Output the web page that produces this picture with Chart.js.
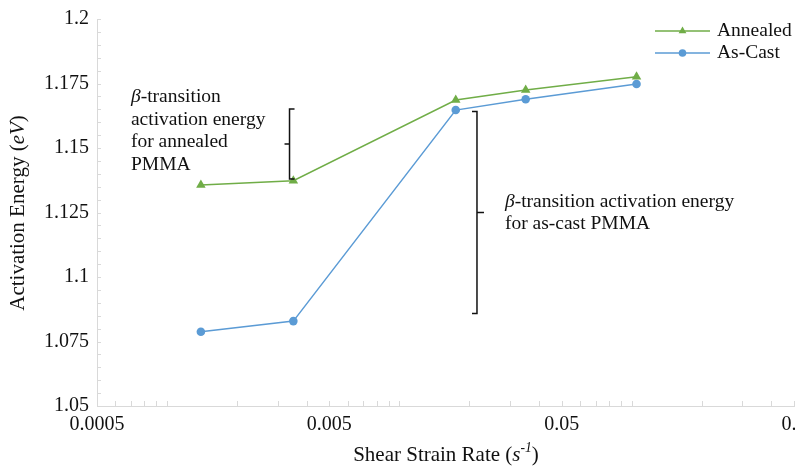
<!DOCTYPE html>
<html>
<head>
<meta charset="utf-8">
<script src="https://cdn.jsdelivr.net/npm/chart.js@4/dist/chart.umd.min.js"></script>
<style>
  html, body { margin: 0; padding: 0; background: #fff; overflow: hidden; }
  #wrap { position: relative; width: 830px; height: 467px; }
</style>
</head>
<body>
<div id="wrap"><canvas id="chart"></canvas></div>
<script>
// shear strain rate (1/s) and activation energy (eV)
const strainRates = [0.0014, 0.0035, 0.0175, 0.035, 0.105];
const annealed    = [1.1357, 1.1373, 1.1686, 1.1725, 1.1776];
const asCast      = [1.0788, 1.0829, 1.1647, 1.1689, 1.1748];
const seriesNames = ['Annealed', 'As-Cast'];

const xTickValues = [0.0005, 0.005, 0.05, 0.5];
const yTickValues = [1.05, 1.075, 1.1, 1.125, 1.15, 1.175, 1.2];

// bracket spans (x, from, to) in data units
const bracketAnnealed = [0.00337, 1.1651, 1.1380];
const bracketAsCast   = [0.0216, 1.1641, 1.0859];

const GREEN = '#70AD47';
const BLUE = '#5B9BD5';
const AXIS = '#d9d9d9';
const INK = '#111';
const SERIF = '"Liberation Serif", "Times New Roman", serif';

function font(size, italic) {
  return (italic ? 'italic ' : '') + size + 'px ' + SERIF;
}

// draws a list of [text, italic, sup] runs starting at x (or centred on x)
function drawRuns(ctx, runs, x, y, size, align) {
  let total = 0;
  runs.forEach(r => {
    ctx.font = font(r[2] ? size * 0.65 : size, r[1]);
    total += ctx.measureText(r[0]).width;
  });
  let cx = align === 'center' ? x - total / 2 : x;
  ctx.textAlign = 'left';
  ctx.textBaseline = 'middle';
  runs.forEach(r => {
    ctx.font = font(r[2] ? size * 0.65 : size, r[1]);
    ctx.fillText(r[0], cx, r[2] ? y - size * 0.3 : y);
    cx += ctx.measureText(r[0]).width;
  });
}

const decorations = {
  id: 'decorations',
  afterDraw(chart) {
    const { ctx, chartArea, scales: { x, y } } = chart;
    ctx.save();

    // inward tick marks on both axes
    ctx.strokeStyle = AXIS;
    ctx.lineWidth = 1;
    ctx.beginPath();
    for (let v = 1.055; v <= 1.2001; v += 0.005) {
      const py = Math.round(y.getPixelForValue(v)) + 0.5;
      ctx.moveTo(chartArea.left, py);
      ctx.lineTo(chartArea.left + 4, py);
    }
    for (let e = -4; e <= 0; e++) {
      for (let k = 1; k <= 9; k++) {
        const v = k * Math.pow(10, e);
        if (v <= 0.00050001 || v > 0.5001) continue;
        const px = Math.round(x.getPixelForValue(v)) + 0.5;
        ctx.moveTo(px, chartArea.bottom);
        ctx.lineTo(px, chartArea.bottom - 5);
      }
    }
    ctx.stroke();

    // axis titles
    ctx.fillStyle = INK;
    drawRuns(ctx, [['Shear Strain Rate (', false], ['s', true], ['-1', true, true], [')', false]],
      446, 455, 21, 'center');
    ctx.save();
    ctx.translate(18, 213);
    ctx.rotate(-Math.PI / 2);
    drawRuns(ctx, [['Activation Energy (', false], ['eV', true], [')', false]], 0, 0, 21, 'center');
    ctx.restore();

    // braces
    ctx.strokeStyle = INK;
    ctx.lineWidth = 1.5;
    function brace(b, capDir, nubLen) {
      const bx = x.getPixelForValue(b[0]);
      const y0 = y.getPixelForValue(b[1]);
      const y1 = y.getPixelForValue(b[2]);
      const ym = (y0 + y1) / 2;
      ctx.beginPath();
      ctx.moveTo(bx + capDir * 5, y0);
      ctx.lineTo(bx, y0);
      ctx.lineTo(bx, y1);
      ctx.lineTo(bx + capDir * 5, y1);
      ctx.moveTo(bx, ym);
      ctx.lineTo(bx - capDir * nubLen, ym);
      ctx.stroke();
    }
    brace(bracketAnnealed, 1, 5);
    brace(bracketAsCast, -1, 7);

    // annotation text
    ctx.fillStyle = INK;
    const ax = x.getPixelForValue(0.0007), ay = y.getPixelForValue(1.1697);
    drawRuns(ctx, [['β', true], ['-transition', false]], ax, ay, 19.5);
    drawRuns(ctx, [['activation energy', false]], ax, ay + 22.5, 19.5);
    drawRuns(ctx, [['for annealed', false]], ax, ay + 45, 19.5);
    drawRuns(ctx, [['PMMA', false]], ax, ay + 67.5, 19.5);

    const bx = x.getPixelForValue(0.0285), by = y.getPixelForValue(1.1290);
    drawRuns(ctx, [['β', true], ['-transition activation energy', false]], bx, by, 19.5);
    drawRuns(ctx, [['for as-cast PMMA', false]], bx, by + 22, 19.5);

    // legend
    const rows = [[seriesNames[0], GREEN, 'triangle', 31], [seriesNames[1], BLUE, 'circle', 53]];
    rows.forEach(r => {
      ctx.strokeStyle = r[1];
      ctx.lineWidth = 1.5;
      ctx.beginPath();
      ctx.moveTo(655, r[3]);
      ctx.lineTo(710, r[3]);
      ctx.stroke();
      ctx.fillStyle = r[1];
      Chart.helpers.drawPoint(ctx, { pointStyle: r[2], radius: r[2] === 'triangle' ? 4.5 : 3.8, rotation: 0 }, 682.5, r[3]);
      ctx.fillStyle = INK;
      drawRuns(ctx, [[r[0], false]], 717, r[3], 19.5);
    });

    ctx.restore();
  }
};

new Chart(document.getElementById('chart'), {
  type: 'line',
  data: {
    labels: strainRates,
    datasets: [
      {
        label: seriesNames[0],
        data: strainRates.map((r, i) => ({ x: r, y: annealed[i] })),
        borderColor: GREEN,
        backgroundColor: GREEN,
        borderWidth: 1.5,
        pointStyle: 'triangle',
        pointRadius: 5.5,
        pointBorderWidth: 0,
        tension: 0
      },
      {
        label: seriesNames[1],
        data: strainRates.map((r, i) => ({ x: r, y: asCast[i] })),
        borderColor: BLUE,
        backgroundColor: BLUE,
        borderWidth: 1.5,
        pointStyle: 'circle',
        pointRadius: 4.3,
        pointBorderWidth: 0,
        tension: 0
      }
    ]
  },
  options: {
    responsive: true,
    maintainAspectRatio: false,
    devicePixelRatio: 1,
    animation: false,
    layout: { padding: { left: 0, top: 19, right: 36, bottom: 0 } },
    plugins: { legend: { display: false }, tooltip: { enabled: false } },
    scales: {
      x: {
        type: 'logarithmic',
        min: 0.0005,
        max: 0.5,
        afterBuildTicks(scale) { scale.ticks = xTickValues.map(v => ({ value: v })); },
        afterFit(scale) { scale.height = 61; scale.paddingLeft = 0; scale.paddingRight = 0; },
        ticks: {
          autoSkip: false,
          maxRotation: 0,
          padding: 7,
          color: INK,
          font: { family: SERIF, size: 20 },
          callback: v => String(v)
        },
        grid: { drawOnChartArea: false, drawTicks: false },
        border: { color: AXIS, width: 1 }
      },
      y: {
        type: 'linear',
        min: 1.05,
        max: 1.2,
        afterBuildTicks(scale) { scale.ticks = yTickValues.map(v => ({ value: v })); },
        afterFit(scale) { scale.width = 97; scale.paddingTop = 0; scale.paddingBottom = 0; },
        ticks: {
          padding: 8,
          color: INK,
          font: { family: SERIF, size: 20 },
          callback: v => String(+v.toFixed(3))
        },
        grid: { drawOnChartArea: false, drawTicks: false },
        border: { color: AXIS, width: 1 }
      }
    }
  },
  plugins: [decorations]
});
</script>
</body>
</html>
